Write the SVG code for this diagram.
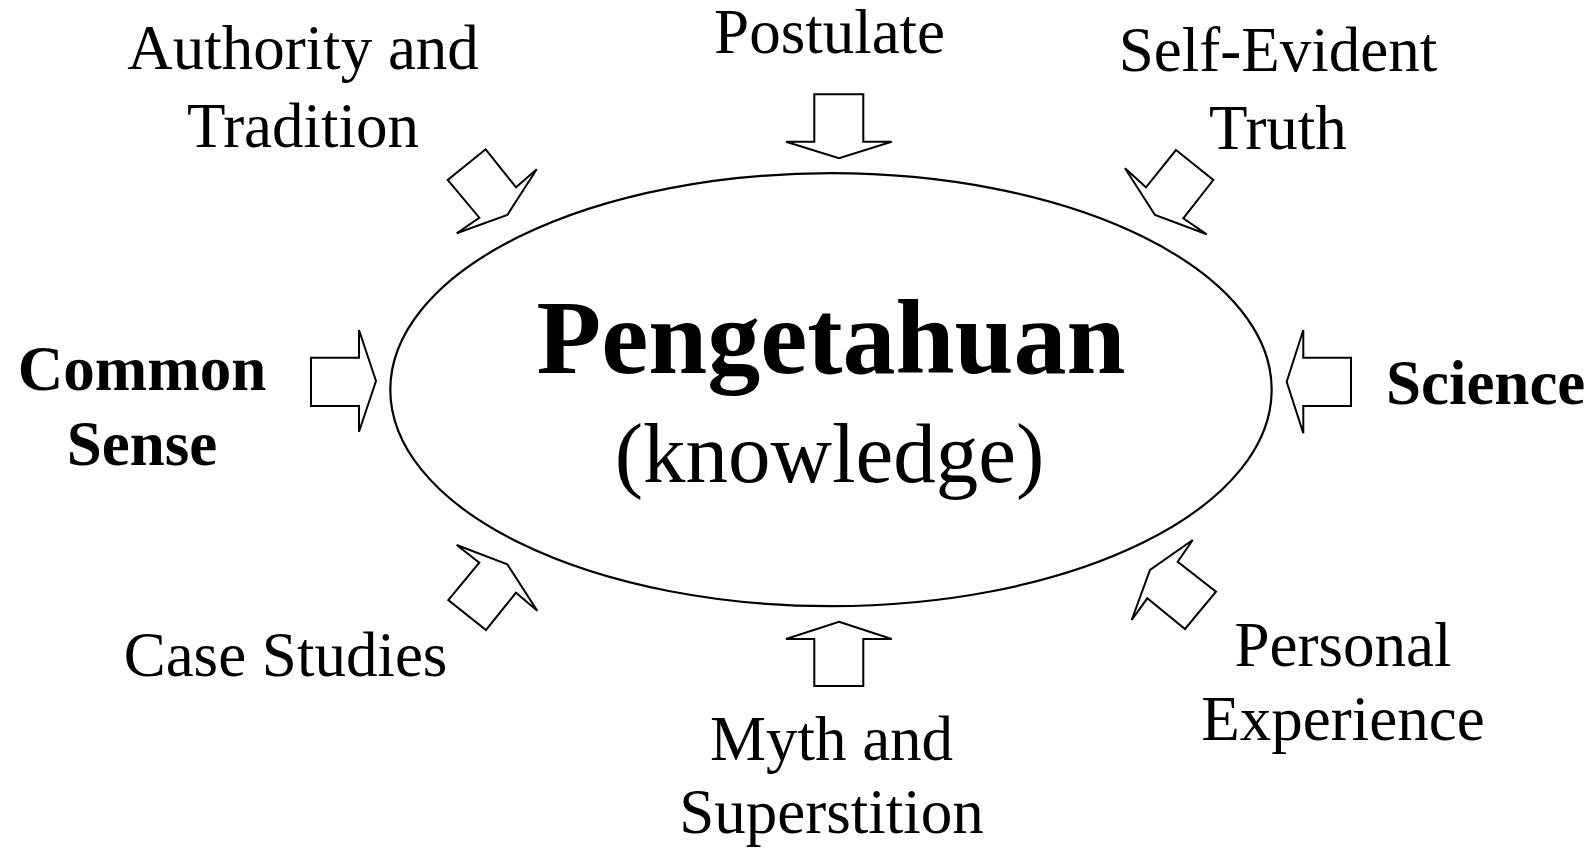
<svg xmlns="http://www.w3.org/2000/svg" width="1596" height="852" viewBox="0 0 1596 852">
<style>
.lbl{font-family:"Liberation Serif","Times New Roman",serif;font-size:63px;fill:#000;text-anchor:middle}
.b{font-weight:bold}
.arr{fill:#fff;stroke:#000;stroke-width:2;stroke-linejoin:miter}
</style>
<rect width="1596" height="852" fill="#fff"/>
<g id="center">
<ellipse cx="831" cy="389.7" rx="440.7" ry="216.5" fill="none" stroke="#000" stroke-width="2.2"/>
<text class="lbl b" x="831" y="372.7" style="font-size:106px">Pengetahuan</text>
<text class="lbl" x="829.5" y="481.7" style="font-size:85px">(knowledge)</text>
</g>
<g id="authority"><text class="lbl" x="303" y="68.5">Authority and</text><text class="lbl" x="303" y="146.5">Tradition</text></g>
<g id="postulate"><text class="lbl" x="829.6" y="53">Postulate</text></g>
<g id="self-evident"><text class="lbl" x="1278" y="71">Self-Evident</text><text class="lbl" x="1278" y="149">Truth</text></g>
<g id="common-sense"><text class="lbl b" x="142" y="390">Common</text><text class="lbl b" x="142" y="465">Sense</text></g>
<g id="science"><text class="lbl b" x="1485.6" y="404">Science</text></g>
<g id="case-studies"><text class="lbl" x="285.5" y="676">Case Studies</text></g>
<g id="myth"><text class="lbl" x="831.5" y="759.5">Myth and</text><text class="lbl" x="831.5" y="833">Superstition</text></g>
<g id="personal"><text class="lbl" x="1343" y="665.6">Personal</text><text class="lbl" x="1343" y="740">Experience</text></g>
<g id="connectors">
<polygon class="arr" points="485.7,149.3 447.7,180 479.3,217.7 456.7,233.3 507.3,215 536.7,169.3 516,187.3"/>
<polygon class="arr" points="814.3,94.3 814.3,141.7 786,141.7 839,158.3 891.7,141.7 863.3,141.7 863.3,94.3"/>
<polygon class="arr" points="1176,150 1213.3,180 1183.3,218.3 1206.7,234.3 1155,215 1125,168.3 1146,187.3"/>
<polygon class="arr" points="311,357.7 359,357.7 359,330 376,381 359,431.7 359,406 311,406"/>
<polygon class="arr" points="1351,357.7 1303.3,357.7 1303.3,330 1286.7,381.7 1303.3,433.3 1303.3,406 1351,406"/>
<polygon class="arr" points="456.7,545 507.3,564.3 537.3,610.7 516,592.7 486,630 448.3,600 479.3,562.7"/>
<polygon class="arr" points="839,621.7 891.7,639 863.3,639 863.3,686 814.3,686 814.3,639 786,639"/>
<polygon class="arr" points="1192.7,540 1177.7,561.7 1216,591.7 1185,629 1147.3,598.3 1131.7,620 1150,570"/>
</g>
</svg>
